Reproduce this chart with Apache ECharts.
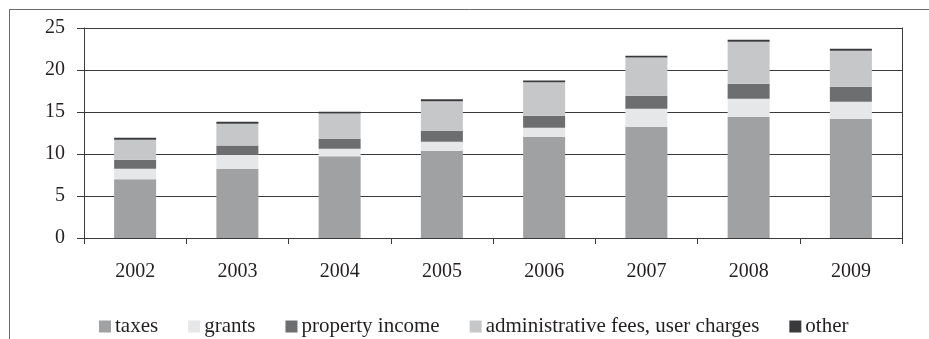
<!DOCTYPE html>
<html>
<head>
<meta charset="utf-8">
<script src="https://cdn.jsdelivr.net/npm/echarts@6/dist/echarts.min.js"></script>
<style>
  html, body { margin: 0; padding: 0; background: #fff; }
  #chart { width: 929px; height: 339px; }
</style>
</head>
<body>
<div id="chart"></div>
<script>
// Revenue composition by year (stacked)
const years = ['2002', '2003', '2004', '2005', '2006', '2007', '2008', '2009'];
const taxes    = [7.0, 8.25, 9.72, 10.4, 12.06, 13.25, 14.44, 14.2];
const grants   = [1.25, 1.67, 0.91, 1.07, 1.07, 2.14, 2.14, 2.03];
const property = [1.07, 1.1, 1.19, 1.31, 1.43, 1.55, 1.79, 1.78];
const adminFees = [2.38, 2.57, 3.01, 3.5, 3.97, 4.56, 5.0, 4.29];
const other    = [0.24, 0.25, 0.21, 0.23, 0.23, 0.2, 0.24, 0.23];
const yTicks = [0, 5, 10, 15, 20, 25];

const seriesDefs = [
  { name: 'taxes', data: taxes, color: '#a0a1a3' },
  { name: 'grants', data: grants, color: '#e6e7e8' },
  { name: 'property income', data: property, color: '#6d6e70' },
  { name: 'administrative fees, user charges', data: adminFees, color: '#c6c7c8' },
  { name: 'other', data: other, color: '#3a3a3c' }
];

const FONT = 'Liberation Serif';
const TXT = '#231f20';
const LINE = '#3a3a3a';

const chart = echarts.init(document.getElementById('chart'), null, { renderer: 'canvas' });

chart.setOption({
  animation: false,
  backgroundColor: '#ffffff',
  textStyle: { fontFamily: FONT, color: TXT },
  graphic: [
    {
      type: 'polyline',
      shape: { points: [[9.5, 339], [9.5, 9.5], [929, 9.5]] },
      style: { stroke: '#6b6b6b', lineWidth: 1, fill: null }
    }
  ],
  grid: { left: 84, right: 27, top: 28, bottom: 101, containLabel: false },
  legend: {
    left: 94,
    top: 311,
    itemWidth: 12,
    itemHeight: 12,
    itemGap: 30,
    icon: 'rect',
    textStyle: { fontFamily: FONT, fontSize: 21, color: TXT, padding: [0, 0, 0, -1] },
    data: seriesDefs.map(s => s.name)
  },
  xAxis: {
    type: 'category',
    data: years,
    boundaryGap: true,
    axisLine: { show: true, lineStyle: { color: LINE, width: 1 } },
    axisTick: { show: true, length: 6, alignWithLabel: false, lineStyle: { color: LINE } },
    axisLabel: { fontFamily: FONT, fontSize: 20, color: TXT, margin: 24 },
    splitLine: { show: false }
  },
  yAxis: [
    {
      type: 'value',
      min: yTicks[0],
      max: yTicks[yTicks.length - 1],
      interval: 5,
      axisLine: { show: true, lineStyle: { color: LINE, width: 1 } },
      axisTick: { show: true, length: 7, lineStyle: { color: LINE } },
      axisLabel: { fontFamily: FONT, fontSize: 20, color: TXT, margin: 19 },
      splitLine: { show: true, lineStyle: { color: LINE, width: 1 } }
    },
    {
      type: 'value',
      position: 'right',
      min: yTicks[0],
      max: yTicks[yTicks.length - 1],
      interval: 5,
      axisLine: { show: true, lineStyle: { color: LINE, width: 1 } },
      axisTick: { show: false },
      axisLabel: { show: false },
      splitLine: { show: false }
    }
  ],
  series: seriesDefs.map(s => ({
    name: s.name,
    type: 'bar',
    stack: 'revenue',
    barWidth: 42,
    data: s.data,
    itemStyle: { color: s.color },
    emphasis: { disabled: true }
  }))
});
</script>
</body>
</html>
